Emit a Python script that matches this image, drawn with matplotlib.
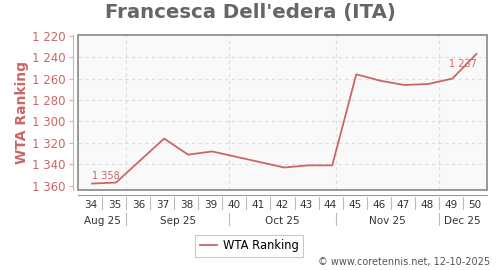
import matplotlib
matplotlib.use("Agg")
import matplotlib.pyplot as plt
import matplotlib.transforms as mtrans
from matplotlib.patches import Rectangle
import pandas as pd

# ranking data, one point per week
dates = ["2025-08-22", "2025-08-29", "2025-09-12", "2025-09-19", "2025-09-26",
         "2025-10-17", "2025-10-24", "2025-10-31", "2025-11-07", "2025-11-14",
         "2025-11-21", "2025-11-28", "2025-12-05", "2025-12-12"]
ranking = [1358, 1357, 1316, 1331, 1328, 1343, 1341, 1341, 1256, 1262,
           1266, 1265, 1260, 1237]

week_labels = ["34", "35", "36", "37", "38", "39", "40", "41", "42", "43",
               "44", "45", "46", "47", "48", "49", "50"]
week_start = "2025-08-18"
month_labels = ["Aug 25", "Sep 25", "Oct 25", "Nov 25", "Dec 25"]
month_starts = ["2025-08-01", "2025-09-01", "2025-10-01", "2025-11-01", "2025-12-01"]
yticks = [1220, 1240, 1260, 1280, 1300, 1320, 1340, 1360]

red = "#cc6666"
grey = "#666666"


def fmt(v):
    return f"{v:,}".replace(",", " ")


x = pd.to_datetime(dates)
mondays = pd.date_range(week_start, periods=len(week_labels) + 1, freq="7D")
x0, x1 = mondays[0], mondays[-1]

fig = plt.figure(figsize=(5, 2.7), dpi=100)
ax = fig.add_axes([0.1566, 0.2963, 0.8168, 0.5741])
ax.set_facecolor("#f9f9f9")

ax.plot(x, ranking, color=red, lw=1.3, label="WTA Ranking")
ax.annotate(fmt(ranking[0]), (x[0], ranking[0]), xytext=(0, 1.5),
            textcoords="offset points", color=red, fontsize=7, ha="left", va="bottom")
ax.annotate(fmt(ranking[-1]), (x[-1], ranking[-1]), xytext=(0, -3.5),
            textcoords="offset points", color=red, fontsize=7, ha="right", va="top")

ax.set_xlim(x0, x1)
ax.set_ylim(1364, 1219.3)

# frame drawn separately so the axis lines can sit outside it
for s in ax.spines.values():
    s.set_visible(False)
ax.add_patch(Rectangle((0, 0), 1, 1, transform=ax.transAxes, fill=False,
                       edgecolor="#888888", lw=1.2, zorder=5, clip_on=False))

ax.spines["left"].set_visible(True)
ax.spines["left"].set_position(("outward", 4))
ax.spines["left"].set_color("#e3aaaa")
ax.set_yticks(yticks)
ax.set_yticklabels([fmt(v) for v in yticks])
ax.tick_params(axis="y", colors="#e3aaaa", labelcolor=red, labelsize=8.5, length=3, pad=2)
ax.set_ylabel("WTA Ranking", color=red, fontsize=10, fontweight="bold", labelpad=2)

ax.spines["bottom"].set_visible(True)
ax.spines["bottom"].set_position(("outward", 3.5))
ax.spines["bottom"].set_color("#999999")
ax.set_xticks(mondays[1:-1])
ax.set_xticklabels([])
ax.tick_params(axis="x", which="major", length=0)
week_mid = mondays[:-1] + pd.Timedelta(days=3.5)
ax.set_xticks(week_mid, minor=True)
ax.set_xticklabels(week_labels, minor=True)
ax.tick_params(axis="x", which="minor", length=0, labelsize=7.5, labelcolor="#333333", pad=4)

# grid: horizontal per tick, vertical at month starts
ax.grid(False)
for v in yticks[1:-1]:
    ax.axhline(v, color="#dddddd", lw=0.8, ls=(0, (3, 3)), zorder=0)
ms = pd.to_datetime(month_starts)
inner = [m for m in ms if x0 < m < x1]
for m in inner:
    ax.axvline(m, color="#dddddd", lw=0.8, ls=(0, (3, 3)), zorder=0)

# week separators and month row below the axis
tr = mtrans.blended_transform_factory(ax.transData, ax.transAxes)
px = 1 / (ax.get_position().height * fig.get_figheight() * fig.dpi)
for m in mondays[1:-1]:
    ax.plot([m, m], [-7 * px, -19 * px], color="#bbbbbb", lw=0.8, transform=tr, clip_on=False)
for m in inner:
    ax.plot([m, m], [-23 * px, -35 * px], color="#bbbbbb", lw=0.8, transform=tr, clip_on=False)
edges = [x0] + inner + [x1]
for lab, a, b in zip(month_labels, edges[:-1], edges[1:]):
    ax.text(a + (b - a) / 2, -31 * px, lab, transform=tr, ha="center", va="center",
            fontsize=7.5, color="#333333")

fig.suptitle("Francesca Dell'edera (ITA)", x=0.5, y=0.99, va="top",
             fontsize=14.2, fontweight="bold", color=grey)

leg = fig.legend(loc="center", bbox_to_anchor=(0.4985, 0.09), fontsize=8.3, frameon=True,
                 fancybox=False, handlelength=1.5, handletextpad=0.5, borderpad=0.4)
leg.get_frame().set_edgecolor("#bbbbbb")
leg.get_frame().set_linewidth(0.8)

fig.text(0.98, 0.03, "\u00a9 www.coretennis.net, 12-10-2025", ha="right", va="center",
         fontsize=7, color="#555555")

fig.savefig("out.png", dpi=100)
